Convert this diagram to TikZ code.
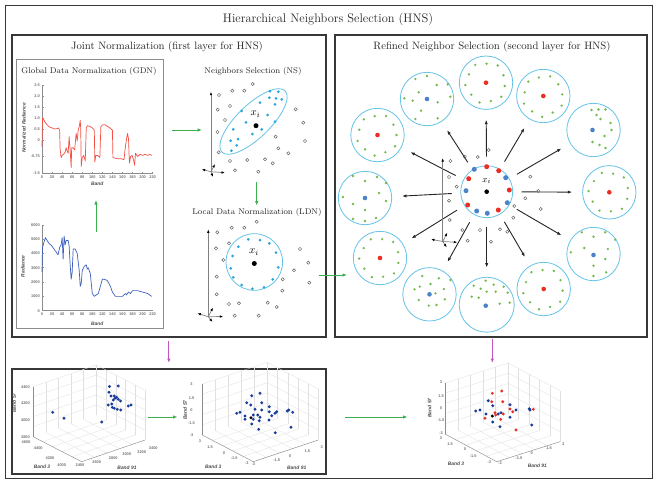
\documentclass[tikz,border=0pt]{standalone}
\usepackage{fontspec}
\newfontfamily\plotfont{Liberation Sans}
\usetikzlibrary{arrows.meta,calc,shapes.geometric}
\definecolor{framec}{RGB}{55,55,55}
\definecolor{garrow}{RGB}{60,175,80}
\definecolor{marrow}{RGB}{195,85,195}
\definecolor{cyc}{RGB}{100,195,230}
\definecolor{cydot}{RGB}{40,165,220}
\definecolor{gdot}{RGB}{115,185,75}
\definecolor{rdot}{RGB}{235,45,35}
\definecolor{bdot}{RGB}{75,130,200}
\definecolor{redline}{RGB}{245,80,70}
\definecolor{blueline}{RGB}{60,95,190}
\definecolor{sdot}{RGB}{25,60,155}
\definecolor{sred}{RGB}{230,50,40}
\newcommand\gridbox[2]{%
  \foreach \t in {0.2,0.4,0.6,0.8}{%
    \draw[gridline] ($(#1B)!\t!(#1R)$) -- ($(#1L)!\t!(#1K)$);
    \draw[gridline] ($(#1B)!\t!(#1L)$) -- ($(#1R)!\t!(#1K)$);
    \draw[gridline] ($(#1L)!\t!(#1K)$) -- ++(0,-#2);
    \draw[gridline] ($(#1K)!\t!(#1R)$) -- ++(0,-#2);
  }%
  \foreach \s in {0.2,0.4,0.6,0.8,1}{%
    \draw[gridline] ($(#1L)+(0,{-\s*#2})$) -- ($(#1K)+(0,{-\s*#2})$) -- ($(#1R)+(0,{-\s*#2})$);
  }%
  \draw[gridline] (#1K) -- ++(0,-#2);
  \draw[gridline] (#1R) -- ++(0,-#2);
  \draw[plotax] (#1L) -- ++(0,-#2);
  \draw[plotax] (#1L) -- (#1B) -- (#1R);
}
\newcommand\ringdots[2]{%
  \foreach \k in {0,...,10}{\fill[gdot] ($(#1)+({#2+\k*32.7}:{19+mod(\k,2)*1.8})$) circle (1.3);}}
\newcommand\offdots[2]{%
  \foreach \dx/\dy in {#2}{\fill[gdot] ($(#1)+(\dx,\dy)$) circle (1.3);}}
\begin{document}
\begin{tikzpicture}[x=1pt,y=-1pt,
  panel/.style={draw=framec,line width=1.7pt,inner sep=0pt},
  opanel/.style={draw=framec,line width=1.2pt,inner sep=0pt},
  subpanel/.style={draw=black!45,line width=0.7pt,inner sep=0pt},
  ttl/.style={font=\fontsize{12.4}{14}\selectfont,text=black!85},
  hdr/.style={font=\fontsize{10.7}{12}\selectfont,text=black!85},
  sub/.style={font=\fontsize{8.3}{10}\selectfont,text=black!85},
  tk/.style={font=\plotfont\bfseries\fontsize{3.9}{4}\selectfont,text=black!55,inner sep=0pt},
  axl/.style={font=\plotfont\bfseries\itshape\fontsize{4.9}{5}\selectfont,text=black!70,inner sep=0pt},
  garr/.style={draw=garrow,line width=1pt,-{Latex[length=4.5pt,width=3.5pt]}},
  marr/.style={draw=marrow,line width=1pt,-{Latex[length=4.5pt,width=3.5pt]}},
  barr/.style={draw=black!85,line width=0.9pt,-{Latex[length=4.5pt,width=3.2pt]}},
  axarr/.style={draw=black!50,line width=0.7pt,-{Latex[length=3.5pt,width=2.6pt,color=black]}},
  nbc/.style={draw=cyc,line width=0.8pt,inner sep=0pt},
  hol/.style={draw=black!65,line width=0.45pt},
  gridline/.style={draw=black!12,line width=0.3pt},
  plotax/.style={draw=black!45,line width=0.45pt},
  xlab/.style={font=\fontsize{11}{12}\selectfont,inner sep=0pt}
]
\useasboundingbox (0,0) rectangle (656,480);
\fill[white] (0,0) rectangle (656,480);

% ---------------- panels
\node[opanel,anchor=north west,minimum width=647pt,minimum height=473pt] (outer) at (5,5) {};
\node[panel,anchor=north west,minimum width=314pt,minimum height=302pt] (left) at (11,34) {};
\node[panel,anchor=north west,minimum width=312pt,minimum height=302pt] (right) at (334,34) {};
\node[subpanel,anchor=north west,minimum width=147pt,minimum height=269pt] (gdn) at (16,59) {};
\node[panel,anchor=north west,minimum width=314pt,minimum height=105pt] (bottom) at (11,368) {};

% ---------------- titles
\node[ttl] (t0) at (328,19) {Hierarchical Neighbors Selection (HNS)};
\node[hdr] (t1) at (167,47) {Joint Normalization (first layer for HNS)};
\node[hdr] (t2) at (492,47) {Refined Neighbor Selection (second layer for HNS)};
\node[sub] (t3) at (89,71) {Global Data Normalization (GDN)};
\node[sub] (t4) at (253,71) {Neighbors Selection (NS)};
\node[sub] (t5) at (257,212) {Local Data Normalization (LDN)};

% ---------------- red plot (normalized)
\begin{scope}[shift={(42,140)},x=0.503pt,y=22pt]
  \draw[plotax] (0,2.5) -- (0,-1.5) -- (220,-1.5);
  \foreach \v [count=\k] in {2.5,2.0,1.5,1.0,0.5,0,-0.75,-1.5}{
    \draw[plotax] (0,\v) -- (3,\v);
    \node[tk,anchor=east] (ryt\k) at (-4,\v) {\v};}
  \foreach \b [count=\k] in {0,20,...,220}{
    \draw[plotax] (\b,-1.5) -- (\b,-1.45);
    \node[tk,anchor=north] (rxt\k) at (\b,-1.6) {\b};}
  \node[axl] (rxl) at (110,-2.0) {Band};
  \node[axl,rotate=90] (ryl) at (-36,0.55) {Normalized Radiance};
  \draw[redline,line width=0.7pt,line join=round] plot coordinates {
  (0,-0.3) (1,1.0) (3,0.95) (5,0.85) (8,0.75) (10,0.7) (13,0.62) (16,0.58) (20,0.55) (25,0.5) (30,0.52) (33,0.55) (35,0.45) (36,-0.4) (38,-0.8) (40,-0.7) (43,-0.65) (46,-0.55) (48,-0.35) (50,-0.5) (52,-0.6) (54,0.15) (55,-0.2) (56,-0.45) (58,-1.25) (59,-0.35) (62,-0.35) (65,-0.45) (67,0.1) (68,0.3) (70,-0.05) (72,0.45) (74,0.6) (76,0.9) (77,0.5) (78,-1.2) (80,-0.8) (83,-0.7) (86,-0.95) (88,0.55) (90,0.65) (95,0.62) (100,0.55) (104,0.45) (105,-1.0) (107,-0.7) (111,-0.7) (115,-0.8) (117,0.6) (120,0.68) (125,0.7) (130,0.62) (135,0.55) (140,0.45) (141,-0.8) (150,-0.85) (158,-0.85) (163,-0.9) (165,-0.45) (168,0.05) (170,0.3) (172,0.05) (173,-0.6) (174,-1.05) (176,-0.75) (179,-0.7) (182,-0.9) (184,-1.15) (186,-0.6) (190,-0.75) (195,-0.65) (200,-0.7) (205,-0.65) (210,-0.7) (215,-0.65) (218,-0.7)};
\end{scope}

% ---------------- blue plot (radiance)
\begin{scope}[shift={(42,310.7)},x=0.503pt,y=0.01433pt]
  \draw[plotax] (0,6000) -- (0,0) -- (220,0);
  \foreach \v [count=\k] in {0,1000,...,6000}{
    \draw[plotax] (0,\v) -- (3,\v);
    \node[tk,anchor=east] (byt\k) at (-4,\v) {\v};}
  \foreach \b [count=\k] in {0,20,...,220}{
    \draw[plotax] (\b,0) -- (\b,60);
    \node[tk,anchor=north] (bxt\k) at (\b,-150) {\b};}
  \node[axl] (bxl) at (110,-900) {Band};
  \node[axl,rotate=90] (byl) at (-38,3100) {Radiance};
  \draw[blueline,line width=0.7pt,line join=round] plot coordinates {
  (0,2700) (1,4400) (4,4800) (7,5100) (10,4900) (14,4700) (20,4500) (26,4200) (30,4000) (32,3900) (35,4400) (38,4600) (40,5100) (42,3600) (44,5200) (46,4600) (48,4900) (52,4900) (54,4500) (56,3200) (58,2200) (60,2700) (62,4300) (66,4300) (70,4000) (74,2800) (76,1700) (78,1900) (80,2800) (84,3100) (88,3200) (90,2900) (92,3000) (96,2600) (100,1200) (104,1000) (108,1100) (112,1200) (116,1700) (120,2200) (124,2200) (130,2100) (136,1700) (140,1300) (146,1000) (154,1000) (160,1000) (166,1200) (168,1100) (172,1300) (176,1200) (180,1400) (190,1400) (200,1300) (210,1200) (218,1000)};
\end{scope}

% ---------------- Neighbors Selection
\coordinate (nso) at (211,171.7);
\coordinate (nstop) at (211,91.7);
\draw[axarr] (nso) -- (nstop);
\coordinate (nsa1) at (225,172.7); \coordinate (nsa2) at (201.7,169.3);
\coordinate (nsa3) at (215,164); \coordinate (nsa4) at (213,177);
\foreach \e in {nsa1,nsa2,nsa3,nsa4} \draw[axarr] (nso) -- (\e);
\node[nbc,ellipse,minimum width=88pt,minimum height=33pt,rotate=44] (nse) at (253.5,121.5) {};
\foreach \p in {(270,91),(278.3,91.7),(269.3,97.7),(276,98.3),(281.7,99.3),(275,104.3),(260,102.7),(241.7,111),(267.7,115),(246,122.3),(275,121.7),(233.3,129.3),(261.7,129.3),(252.3,134),(230.7,140.7),(238,139),(236.7,145.3),(231.3,150.7)}
  \fill[cydot] \p circle (1.5);
\foreach \p in {(252.7,84),(232.3,90.7),(244.3,90.7),(219,95),(230,106),(217.7,109.7),(225,120),(217.5,132),(295.7,109.3),(303.3,122.7),(275.7,136.7),(305,141),(278.3,148.3),(288.3,153.3),(218.7,152.3),(230,161),(247.3,160),(265,159.3),(272.7,163.3),(235,170.3),(258.3,171.7)}
  \draw[hol] \p circle (1.6);
\node[circle,fill=black,inner sep=0pt,minimum size=5pt] (nsx) at (256,125.7) {};
\node[xlab] (nsxl) at (255.5,114) {$x_i$};

% ---------------- Local Data Normalization
\coordinate (ldo) at (208.3,316.7);
\coordinate (ldtop) at (208.3,229.3);
\draw[axarr] (ldo) -- (ldtop);
\coordinate (lda1) at (223.3,316.5); \coordinate (lda2) at (197.3,313.3);
\coordinate (lda3) at (213,307.5); \coordinate (lda4) at (212.5,322);
\foreach \e in {lda1,lda2,lda3,lda4} \draw[axarr] (ldo) -- (\e);
\node[nbc,circle,minimum size=56.6pt] (ldc) at (254.3,262) {};
\foreach \p in {(248.3,239.3),(260,240),(269.3,243.3),(276,252.7),(278.3,267.3),(272.7,279.3),(264,287.3),(252.3,288.7),(241.7,285),(233.3,277.3),(230.7,268.3),(232.7,256),(238.3,246.7)}
  \fill[cydot] \p circle (1.5);
\foreach \p in {(256.7,221.7),(231.7,227.7),(244.3,227.7),(217.3,232.3),(229,243.3),(216,248.3),(223.3,260),(300,249),(308.3,262.7),(294,270.3),(216.7,276.7),(282.7,279.3),(309.3,282.7),(282.3,290.7),(216.7,294.3),(229,304),(239,303.3),(267.7,302.7),(276.7,307),(234.7,315.7),(258.7,315.7)}
  \draw[hol] \p circle (1.6);
\node[circle,fill=black,inner sep=0pt,minimum size=5pt] (ldx) at (254.3,263.5) {};
\node[xlab] (ldxl) at (254,252) {$x_i$};

% ---------------- Refined neighbor selection
\node[nbc,circle,minimum size=52pt] (ctr) at (486.7,191.7) {};
\node[nbc,circle,minimum size=53.4pt] (c1) at (486,82.7) {};
\node[nbc,circle,minimum size=53.4pt] (c2) at (543.3,96) {};
\node[nbc,circle,minimum size=53.4pt] (c3) at (593.5,130) {};
\node[nbc,circle,minimum size=53.4pt] (c4) at (609.3,192.3) {};
\node[nbc,circle,minimum size=53.4pt] (c5) at (593.5,254) {};
\node[nbc,circle,minimum size=53.4pt] (c6) at (543.7,289) {};
\node[nbc,circle,minimum size=55pt] (c7) at (486.7,304.7) {};
\node[nbc,circle,minimum size=53.4pt] (c8) at (429.5,294.3) {};
\node[nbc,circle,minimum size=53.4pt] (c9) at (380,258) {};
\node[nbc,circle,minimum size=53.4pt] (c10) at (365,198) {};
\node[nbc,circle,minimum size=53.4pt] (c11) at (377.5,135) {};
\node[nbc,circle,minimum size=53.4pt] (c12) at (427,99) {};
\foreach \i in {1,...,12}
  \draw[barr] ($(ctr)!35pt!(c\i)$) -- ($(c\i)!37pt!(ctr)$);
% red-centred clusters
\foreach \c/\a in {c1/10,c2/-5,c4/20,c6/5,c9/15,c11/0}{
  \ringdots{\c}{\a}
  \fill[rdot] (\c) circle (2.3);}
% blue-centred clusters
\offdots{c12}{0/-23,-11.7/-20,9.7/-14,20.7/-14.7,-8.3/-6.7,-22.7/-0.7,-14.3/1.7,10.7/3.3,23.3/-2.3,-6/11.7,10.7/19.3,-11.7/20}
\fill[bdot] (c12) circle (2.3);
\offdots{c3}{-2/-20,5/-20.5,12/-20.5,3/-15,7/-11,17/-7,18/0,11/6,-1/12,6/15,12/18}
\fill[bdot] ($(c3)+(-1,0)$) circle (2.3);
\offdots{c5}{-11.7/-21.7,0/-17.3,11.7/-21.7,21.7/-14.3,-9.3/-6,14.3/-5,-22.7/-1.7,11.7/5,0/11.7,12.7/18.3,0/22}
\fill[bdot] ($(c5)+(0,1)$) circle (2.3);
\offdots{c7}{-1/-24,-13/-19,-6/-16,7/-20,17/-18,-15/-8,-8/-7,0/-13,9/-13,21/-12,13/-1,23/-2}
\fill[bdot] ($(c7)+(-1,1)$) circle (2.3);
\offdots{c8}{-7.3/-18.3,9.3/-16,21/-14.3,-15/-5,-9.7/-7.7,1/-10.3,6/-1,14.3/-5.3,-10.7/5.7,-0.7/11.3,7/10.7,15.3/5}
\fill[bdot] (c8) circle (2.3);
\offdots{c10}{-12/-22,0/-17,12/-21,21/-15,-22/-1,-12/6,14/-5,21/3,0/12,-12/21,0/23,11/20}
\fill[bdot] (c10) circle (2.3);
% hollow points round the centre
\foreach \p in {(488.7,150),(464.7,156.7),(477.7,157),(450.5,161),(449,177),(456.7,186.7),(449,200.7),(449.7,220),(530.3,176.7),(538.3,191),(525.3,198.3),(514.3,206),(540.7,209),(513.3,217.7),(507.3,231.7),(500,229.3),(480,230),(462.3,230),(467.7,240.7),(491,241.7)}
  \draw[hol] \p circle (1.6);
% small axes
\coordinate (rso) at (442.7,241.5);
\coordinate (rstop) at (442.7,158);
\draw[axarr] (rso) -- (rstop);
\coordinate (rsa1) at (457.3,242.3); \coordinate (rsa2) at (431,239.3);
\coordinate (rsa3) at (447.3,232.7); \coordinate (rsa4) at (446.7,247.3);
\foreach \e in {rsa1,rsa2,rsa3,rsa4} \draw[axarr] (rso) -- (\e);
% inner ring
\foreach \p in {(486.7,166.7),(498.7,170.7),(509.3,190),(498.3,210),(467.7,205),(468.7,178.7)}
  \fill[rdot] \p circle (2.5);
\foreach \p in {(505.7,177.7),(507.3,202.7),(487.3,213.3),(476.7,211),(466,190.7),(474.3,169.3)}
  \fill[bdot] \p circle (2.5);
\node[circle,fill=black,inner sep=0pt,minimum size=4.6pt] (rcx) at (486.7,191.7) {};
\node[xlab,font=\fontsize{9.5}{10}\selectfont] (rcxl) at (486.7,181) {$x_i$};

% ---------------- connectors between stages
\coordinate (g1s) at (96,231.5); \coordinate (g1e) at (96,200);
\draw[garr] (g1s) -- (g1e);
\coordinate (g2s) at (172,130); \coordinate (g2e) at (202,130);
\draw[garr] (g2s) -- (g2e);
\coordinate (g3s) at (256.7,181.7); \coordinate (g3e) at (256.7,205.5);
\draw[garr] (g3s) -- (g3e);
\coordinate (g4s) at (318.5,275); \coordinate (g4e) at (347,275);
\draw[garr] (g4s) -- (g4e);
\draw[marr,shorten <=3.5pt,shorten >=5pt] (left.south) -- (bottom.north);
\coordinate (m2s) at (492.3,338.5); \coordinate (m2e) at (492.3,363);
\draw[marr] (m2s) -- (m2e);
\coordinate (g5s) at (148.3,417); \coordinate (g5e) at (177.5,417);
\draw[garr] (g5s) -- (g5e);
\coordinate (g6s) at (345,417); \coordinate (g6e) at (407.5,417);
\draw[garr] (g6s) -- (g6e);

% ---------------- 3D scatter plots
\coordinate (p1L) at (33,436.7); \coordinate (p1B) at (81.7,461.7); \coordinate (p1R) at (145,440);
\coordinate (p1K) at ($(p1L)+(p1R)-(p1B)$);
\gridbox{p1}{50}
\coordinate (p2L) at (202.3,435); \coordinate (p2B) at (253.3,461.7); \coordinate (p2R) at (318.3,440);
\coordinate (p2K) at ($(p2L)+(p2R)-(p2B)$);
\gridbox{p2}{51}
\coordinate (p3L) at (445,434); \coordinate (p3B) at (496.7,461.7); \coordinate (p3R) at (560,441.7);
\coordinate (p3K) at ($(p3L)+(p3R)-(p3B)$);
\gridbox{p3}{51}

% plot 1 labels
\foreach \t/\y [count=\k] in {4400/386.7,4200/403.3,4000/420,3800/436.7}
  \node[tk] (p1z\k) at (25.5,\y) {\t};
\foreach \t/\x/\y [count=\k] in {4600/26/442.3,4400/38.3/448.3,4200/50/458.3,4000/61.7/465}
  \node[tk] (p1a\k) at (\x,\y) {\t};
\foreach \t/\x/\y [count=\k] in {2400/80/465,2600/96.7/462.3,2800/113.3/458.3,3000/126.7/454,3200/141.7/451.7,3400/153.3/448.3}
  \node[tk] (p1b\k) at (\x,\y) {\t};
\node[axl,rotate=90] (p1zl) at (14,403) {Band 57};
\node[axl] (p1al) at (42,467) {Band 3};
\node[axl] (p1bl) at (127,467.5) {Band 91};
\foreach \p in {(52.7,412.3),(64,418.3),(101.7,422),(118.3,386),(109,392.3),(111,396),(115,398.3),(113.3,400),(118.3,399.3),(120.5,401),(114.3,396),(116.7,397.3),(108.3,405),(111.7,404),(114.3,408.3),(117.3,409.3),(120.7,410),(128.3,406),(131,405),(112.3,407.3),(109.5,386.5)}
  \fill[sdot] \p circle (1.6);

% plot 2 labels
\foreach \t/\y [count=\k] in {3/384.3,1.5/397.7,0/410,-1.5/422.7,-3/435}
  \node[tk] (p2z\k) at (191.5,\y) {\t};
\foreach \t/\x/\y [count=\k] in {3/200/441,1.5/210/447.3,0/224/453.3,-1.5/234.3/458.3,-3/246.7/463.3}
  \node[tk] (p2a\k) at (\x,\y) {\t};
\foreach \t/\x/\y [count=\k] in {-3/253.3/464.3,-1.5/276.7/460,0/290/456,1.5/307.3/450.7,3/321.7/446.7}
  \node[tk] (p2b\k) at (\x,\y) {\t};
\node[axl,rotate=90] (p2zl) at (185,410) {Band 57};
\node[axl] (p2al) at (213.3,466.3) {Band 3};
\node[axl] (p2bl) at (296.7,467.5) {Band 91};
\foreach \p in {(251.7,395.7),(260,393.3),(246.7,402.7),(250.7,405),(261.7,402.7),(255,409.3),(261.7,410),(269.3,406.7),(269.3,411.7),(276.7,411.7),(236.7,413.3),(240,412.3),(245,416),(253.3,415),(257.7,415),(260,417.3),(271.7,415.7),(275,413.3),(287.3,411),(288.7,410),(292.7,412.3),(245,419.3),(253.3,419.3),(251.7,424),(259.3,420.7),(269,420),(258.7,429.3),(275.3,432.7),(291,427.3)}
  \fill[sdot] \p circle (1.6);
\fill[black] (251,417.7) circle (1.7);

% plot 3 labels
\foreach \t/\y [count=\k] in {3/382.3,1.5/396,0/408.3,-1.5/420,-3/433.3}
  \node[tk] (p3z\k) at (441,\y) {\t};
\foreach \t/\x/\y [count=\k] in {3/441/438.5,1.5/450/444,0/465/449.3,-1.5/473.3/456,-3/489.3/461.7}
  \node[tk] (p3a\k) at (\x,\y) {\t};
\foreach \t/\x/\y [count=\k] in {-3/500/462.7,-1.5/519/457.7,0/531.7/453.3,1.5/549/448.3,3/563.3/444}
  \node[tk] (p3b\k) at (\x,\y) {\t};
\node[axl,rotate=90] (p3zl) at (429.5,408) {Band 57};
\node[axl] (p3al) at (456,464) {Band 3};
\node[axl] (p3bl) at (537.3,465.5) {Band 91};
\foreach \p in {(488.3,400.7),(492.7,405.7),(475.7,411),(480,410),(486,414),(498.3,414),(501,412.7),(510,404.7),(516,410),(510,417.3),(529.3,408.7),(530,410),(531.7,425),(492.7,422),(500,426.7)}
  \fill[sdot] \p circle (1.6);
\foreach \p in {(492.3,393.3),(501.7,391),(491.7,401.7),(502.7,401.7),(510,409),(512.7,411.7),(533.3,409.3),(485,418.3),(495,412.7),(495.7,415),(500.7,419.3),(503.3,414),(516,430)}
  \fill[sred] \p circle (1.6);
\fill[black] (492.3,416) circle (1.7);
\end{tikzpicture}
\end{document}
